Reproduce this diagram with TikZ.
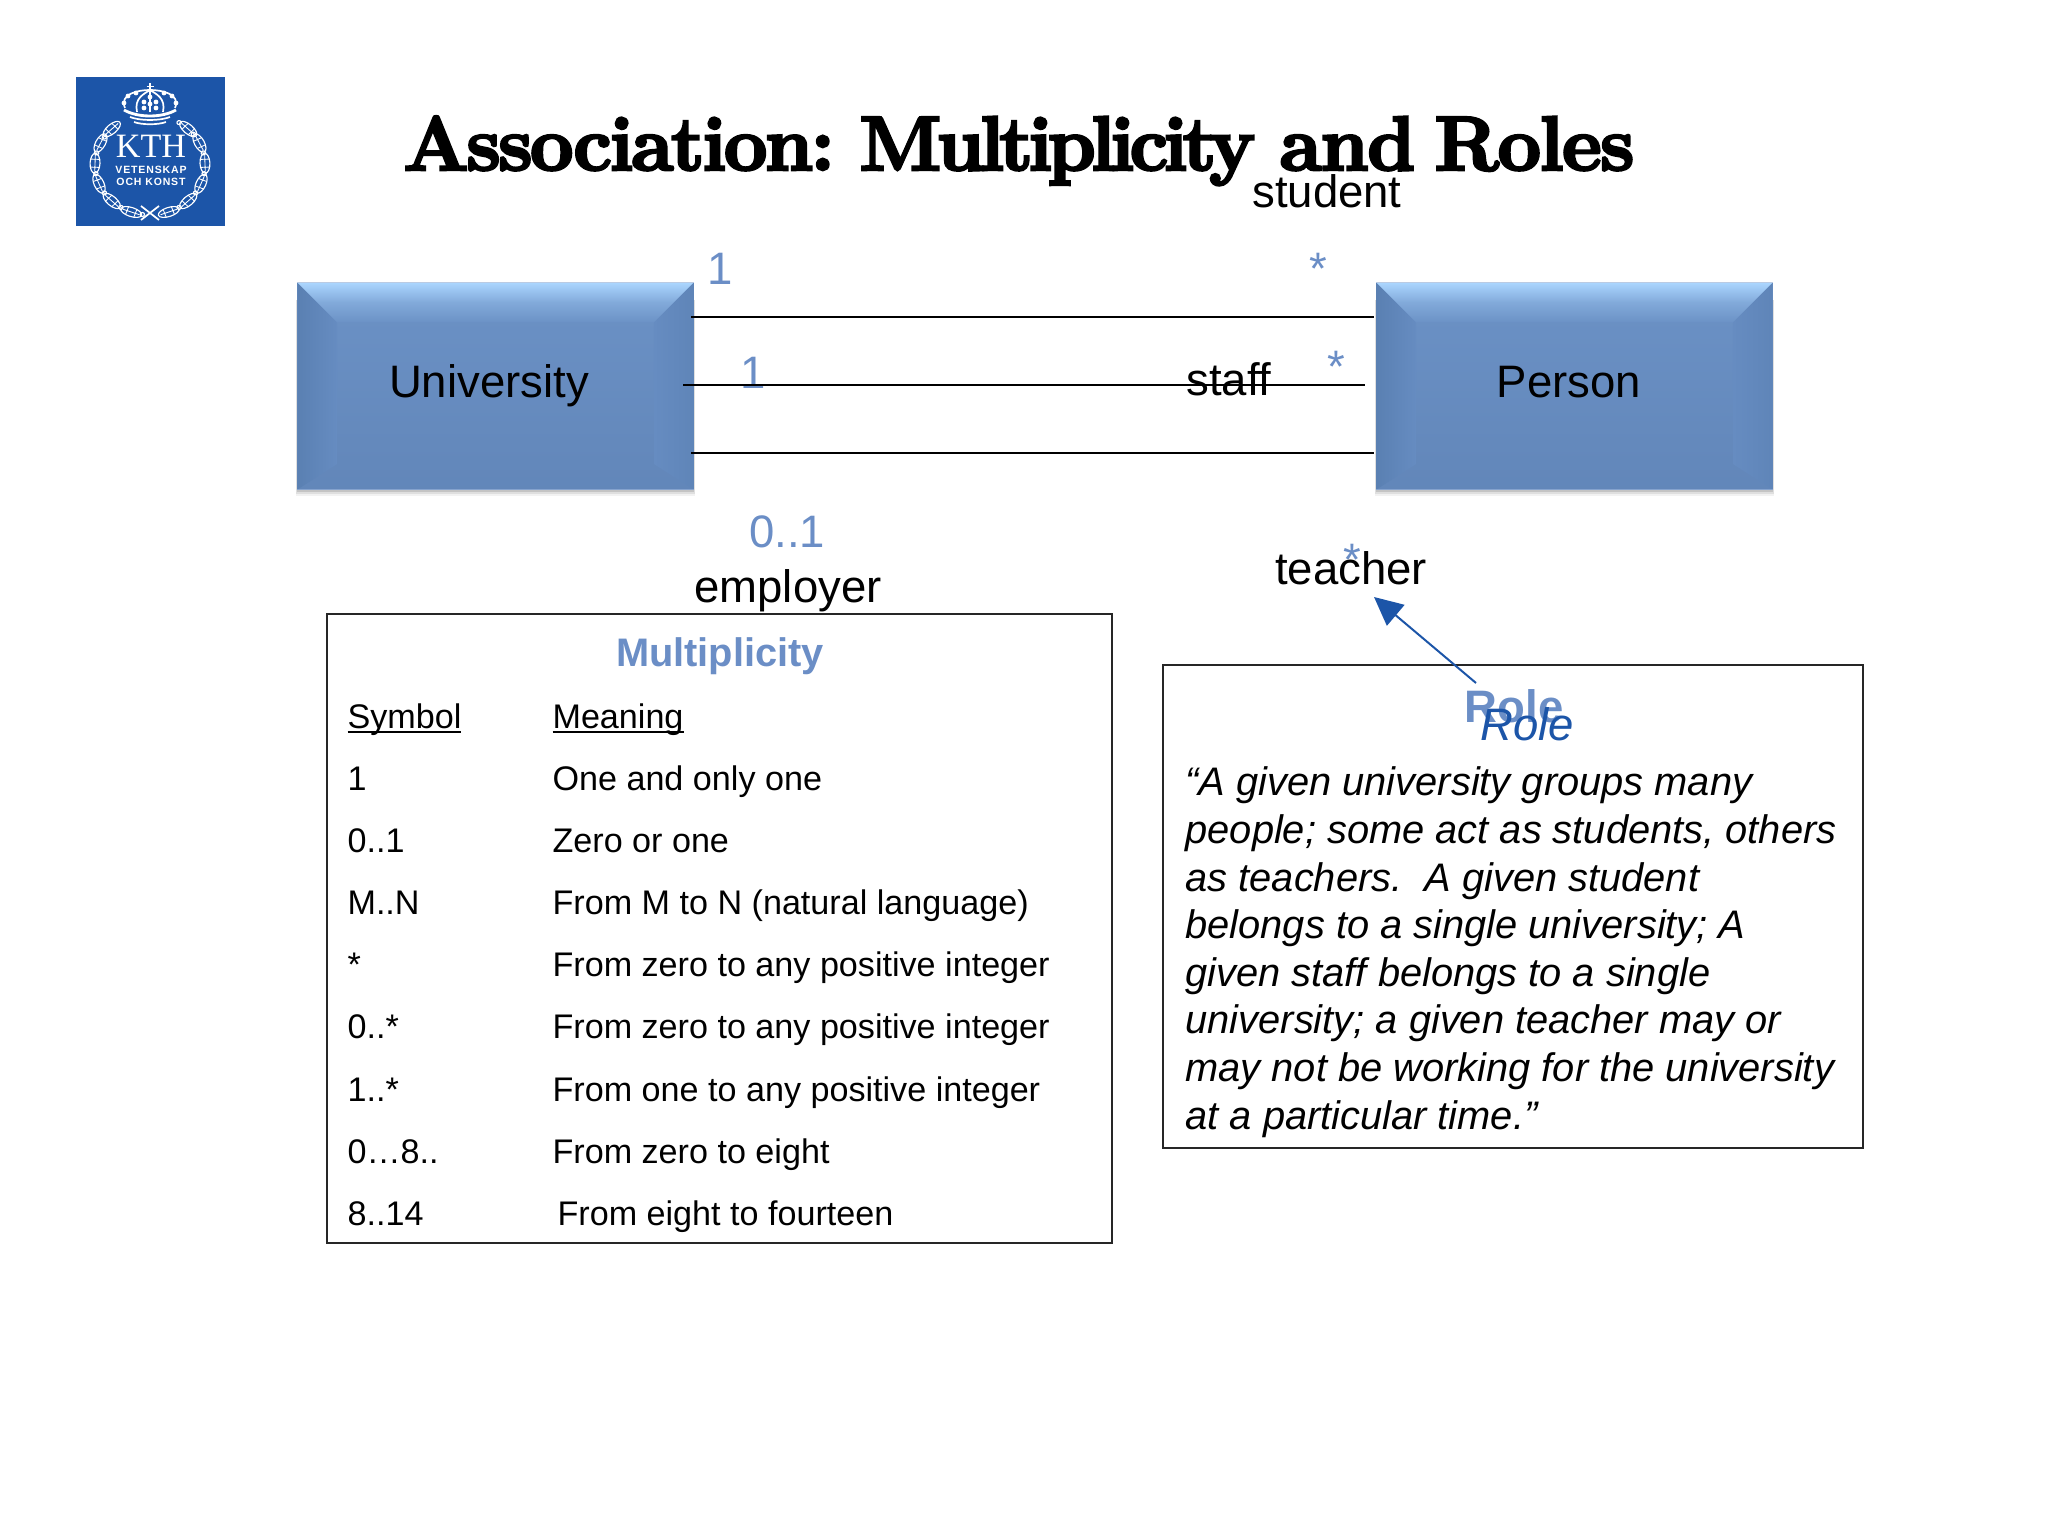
\documentclass[tikz,border=0pt]{standalone}
\usepackage{fontspec}
\setmainfont{Liberation Sans}
\newfontfamily\titlefont[FakeBold=3.6]{Latin Modern Roman}
\usetikzlibrary{arrows.meta}
\definecolor{kthblue}{HTML}{1C55A8}
\definecolor{labelblue}{HTML}{6B8EC6}
\definecolor{boxblue}{HTML}{668CC1}
\definecolor{lightblue}{HTML}{ABD6FF}
\definecolor{edgeblue}{HTML}{5A80B2}
\newcommand{\titleword}[2]{{\addfontfeature{LetterSpace=#1}#2}}

\begin{document}
\begin{tikzpicture}[x=0.3515625pt,y=-0.3515625pt,
	every node/.style={inner sep=0pt,font=\fontsize{16}{18}\selectfont},
	rolelabel/.style={anchor=base},
	multlabel/.style={anchor=base,text=labelblue},
	tablecell/.style={anchor=base west,font=\fontsize{12}{14}\selectfont},
	framebox/.style={draw=black!85,line width=.75pt},
	assocline/.style={draw=black,line width=.75pt},
	classbox/.style={minimum width=138.9pt,minimum height=72.4pt},
	logoleaf/.style={draw=white,line width=.4pt}]
\useasboundingbox (0,0) rectangle (2048,1536);
%================================================================
%	Logo
\fill[kthblue] (76,77) rectangle (225,226);
%----------------------------------------------------------------
\node[anchor=base,text=white,font=\fontsize{12}{12}\fontspec{Liberation Serif}] (logokth) at (151,158) {KTH};
\node[anchor=base,text=white,font=\bfseries\fontsize{3.7}{4}\selectfont\addfontfeatures{LetterSpace=8}] (logovet) at (151,174) {VETENSKAP};
\node[anchor=base,text=white,font=\bfseries\fontsize{3.7}{4}\selectfont\addfontfeatures{LetterSpace=8}] (logooch) at (151,186) {OCH KONST};
%----------------------------------------------------------------
\begin{scope}[shift={(150,165)},xscale=1.1]
\foreach \a in {-70,-46,-22,2,26,46,134,154,178,202,226,250} {
	\draw[logoleaf,rotate=\a] (50,0) ellipse (4.5 and 10);
	\draw[white,line width=.3pt,rotate=\a] (50,-8) -- (50,8) (46,-4) -- (54,-4) (46,4) -- (54,4);
	\draw[white,line width=.4pt,rotate=\a+12] (50,0) circle (2);
}
\end{scope}
\draw[white,line width=.6pt] (141,206) -- (159,220) (159,206) -- (141,220);
%----------------------------------------------------------------
\draw[white,line width=.6pt] (125,108) .. controls (119,94) and (138,90) .. (150,90) .. controls (162,90) and (181,94) .. (175,108);
\draw[white,line width=.6pt] (137,112) .. controls (134,98) and (144,94) .. (150,90) .. controls (156,94) and (166,98) .. (163,112);
\draw[white,line width=.6pt] (150,83) -- (150,112) (146.5,86.5) -- (153.5,86.5);
\draw[white,line width=1pt] (124,110) .. controls (138,118) and (162,118) .. (176,110);
\draw[white,line width=.6pt] (130,117) .. controls (140,121) and (160,121) .. (170,117);
\draw[white,line width=.6pt] (134,122) .. controls (142,125) and (158,125) .. (166,122);
\foreach \dx/\dy in {124/103,128/96,136/93,144/102,144/108,156/102,156/108,164/93,172/96,176/103,150/97,150/104}
	\fill[white] (\dx,\dy) circle (2.4);

%================================================================
%	Title
\node[anchor=base west,font=\titlefont\bfseries\fontsize{27}{30}\selectfont] (title) at (403,170) {\titleword{-3}{Association:}\hspace{8.7pt}\titleword{-6.1}{Multiplicity}\hspace{8.7pt}\titleword{-1.6}{and}\hspace{6.8pt}\titleword{-1.8}{Roles}};

%================================================================
%	Classes
\node[classbox] (university) at (495.5,386) {};
\node[classbox] (person) at (1574.5,386) {};
%----------------------------------------------------------------
\foreach \bx in {university,person} {
	\foreach \grow/\halfgrow/\op in {2.4pt/.6pt/.05,1.6pt/.4pt/.08,.9pt/.2pt/.12}
		\fill[black,opacity=\op] ([shift={(-\halfgrow,-6pt)}]\bx.north west) rectangle ([shift={(\halfgrow,-\grow)}]\bx.south east);
	\shade[top color=boxblue!92!lightblue,bottom color=boxblue!96!black] (\bx.north west) rectangle (\bx.south east);
	\shade[left color=edgeblue,right color=boxblue] (\bx.north west) -- ([shift={(14pt,-14pt)}]\bx.north west) -- ([shift={(14pt,9pt)}]\bx.south west) -- (\bx.south west) -- cycle;
	\shade[left color=boxblue,right color=edgeblue!60!boxblue] (\bx.north east) -- ([shift={(-14pt,-14pt)}]\bx.north east) -- ([shift={(-14pt,9pt)}]\bx.south east) -- (\bx.south east) -- cycle;
	\shade[top color=lightblue,bottom color=boxblue!92!lightblue,middle color=lightblue!40!boxblue] (\bx.north west) -- (\bx.north east) -- ([shift={(-14pt,-14pt)}]\bx.north east) -- ([shift={(14pt,-14pt)}]\bx.north west) -- cycle;
	\draw[boxblue!45!white,line width=.5pt] (\bx.north west) -- (\bx.north east);
	\draw[boxblue!80!white,line width=.5pt] (\bx.south west) -- (\bx.south east);
}
%----------------------------------------------------------------
\node[rolelabel] (universitytext) at (489,398) {University};
\node[rolelabel] (persontext) at (1569,398) {Person};

%================================================================
%	Roles and multiplicities
\node[rolelabel] (student) at (1327,208) {student};
\node[rolelabel] (staff) at (1229,396) {staff};
\node[rolelabel] (employer) at (788,603) {employer};
\node[rolelabel] (teacher) at (1351,585) {teacher};
%----------------------------------------------------------------
\node[multlabel] (multtopl) at (720,285) {1};
\node[multlabel] (multmidl) at (753,389) {1};
\node[multlabel] (multbotl) at (787,548) {0..1};
\node[multlabel] (multtopr) at (1318,285) {*};
\node[multlabel] (multmidr) at (1336,383) {*};
\node[multlabel] (multbotr) at (1352,576) {*};

%================================================================
%	Lines
\coordinate (unitop) at (691,317);
\coordinate (unimid) at (683,385);
\coordinate (unibot) at (691,453);
\coordinate (pertop) at (1374,317);
\coordinate (permid) at (1365,385);
\coordinate (perbot) at (1374,453);
%----------------------------------------------------------------
\draw[assocline] (unitop) -- (pertop);
\draw[assocline] (unimid) -- (permid);
\draw[assocline] (unibot) -- (perbot);

%================================================================
%	Multiplicity box
\draw[framebox] (327,614) rectangle (1112,1243);
%----------------------------------------------------------------
\node[anchor=base,text=labelblue,font=\bfseries\fontsize{14}{16}\selectfont] (multtitle) at (720,666) {Multiplicity};
\node[tablecell] (symhead) at (347,728) {\underline{\smash{Symbol}}};
\node[tablecell] (meanhead) at (552,728) {\underline{\smash{Meaning}}};
%----------------------------------------------------------------
\foreach \rowy/\sym/\txt in {790/1/One and only one,852/0..1/Zero or one,914/M..N/From M to N (natural language),976/*/From zero to any positive integer,1038/0..*/From zero to any positive integer,1101/1..*/From one to any positive integer,1163/0…8../From zero to eight} {
	\node[tablecell] (sym\rowy) at (347,\rowy) {\sym};
	\node[tablecell] (mean\rowy) at (552,\rowy) {\txt};
}
\node[tablecell] (symlast) at (347,1225) {8..14};
\node[tablecell] (meanlast) at (557,1225) {From eight to fourteen};

%================================================================
%	Role box
\draw[framebox] (1163,665) rectangle (1863,1148);
%----------------------------------------------------------------
\node[anchor=base,text=labelblue,font=\bfseries\fontsize{16}{18}\selectfont] (roletitle) at (1514,722) {Role};
\node[anchor=base,text=kthblue,font=\itshape\fontsize{16}{18}\selectfont] (roleword) at (1527.5,740) {Role};
%----------------------------------------------------------------
\node[anchor=north west,align=left,font=\itshape\fontsize{14}{16.73}\selectfont] (roletext) at (1185,766.5) {“A given university groups many\\people; some act as students, others\\as teachers.~~A given student\\belongs to a single university; A\\given staff belongs to a single\\university; a given teacher may or\\may not be working for the university\\at a particular time.”};
%----------------------------------------------------------------
\coordinate (roletail) at (1476,683);
\coordinate (roletip) at (1374,597);
\draw[kthblue,line width=.7pt,-{Triangle[length=10pt,width=9.5pt]}] (roletail) -- (roletip);
%================================================================
\end{tikzpicture}
\end{document}
